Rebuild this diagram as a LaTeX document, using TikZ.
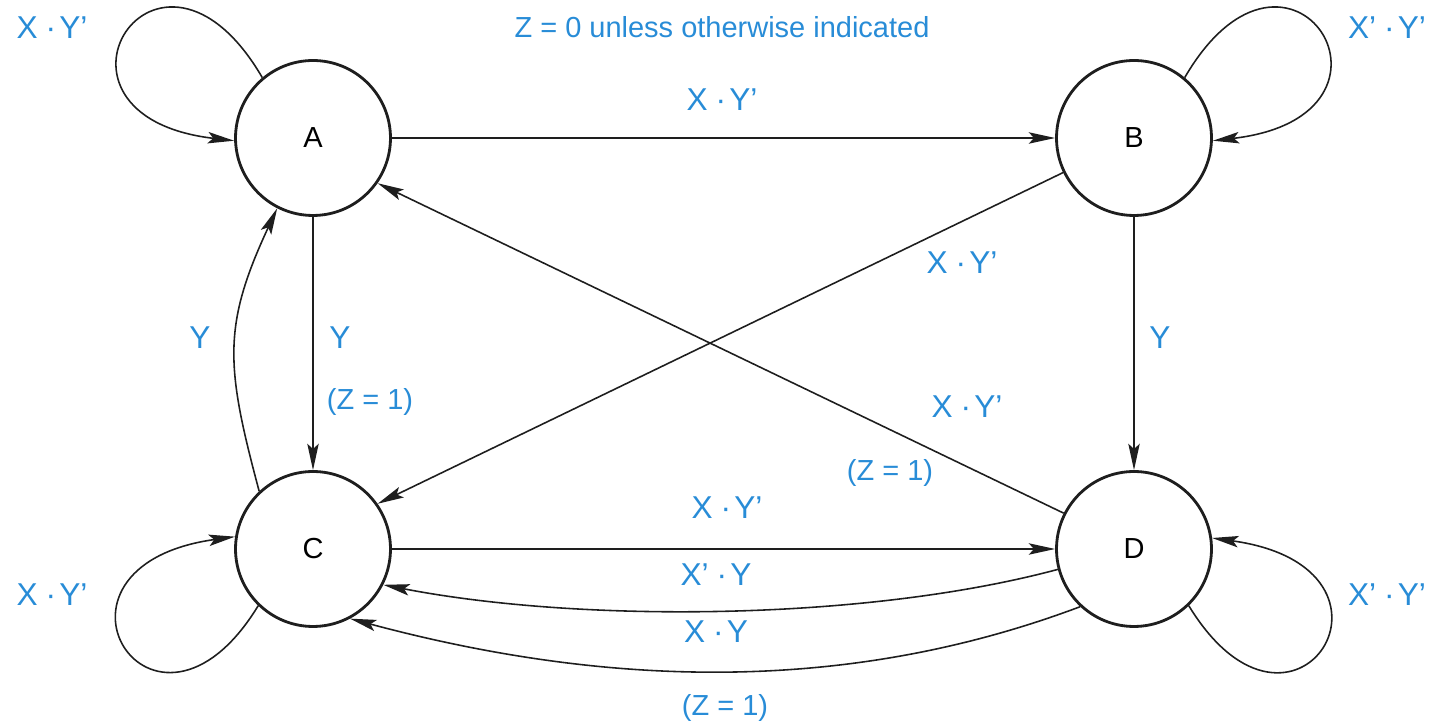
\documentclass[tikz,border=0pt]{standalone}
\usepackage{fontspec}
\setmainfont{Liberation Sans}
\usetikzlibrary{arrows.meta}
\definecolor{lblue}{RGB}{40,140,215}
\definecolor{ink}{RGB}{30,30,30}
\newcommand{\pdot}{\hspace{0.25em}·\hspace{0.1em}}
\begin{document}
\begin{tikzpicture}[x=0.02cm,y=0.02cm,
  state/.style={circle,draw=ink,line width=1.6pt,minimum size=3.1cm,inner sep=0pt,font=\fontsize{16.5}{20}\selectfont},
  lbl/.style={text=lblue,font=\fontsize{16.5}{19}\selectfont,inner sep=1pt},
  lblx/.style={text=lblue,font=\fontsize{18}{21}\selectfont,inner sep=1pt},
  edge/.style={draw=ink,line width=0.9pt,-{Stealth[length=15pt,width=6.5pt,inset=3pt]}}]
\useasboundingbox (0,0) rectangle (1441,723);
\node[state] (A) at (313,585) {A};
\node[state] (B) at (1134,585) {B};
\node[state] (C) at (313,174) {C};
\node[state] (D) at (1134,174) {D};
% straight edges
\draw[edge] (A) -- (B);
\draw[edge] (A) -- (C);
\draw[edge] (B) -- (D);
\draw[edge] (C) -- (D);
\draw[edge] (B.206) -- (C.35);
\draw[edge] (D.153) -- (A.325);
% curved edges
\draw[edge] (C.133) .. controls +(105:130) and +(245:130) .. (A.243);
\draw[edge] (D.195) .. controls +(195:200) and +(-11:200) .. (C.333);
\draw[edge] (D.227) .. controls +(200.6:257) and +(-15:257) .. (C.298);
% self loops
\draw[edge] (A.130) .. controls +(-105,180) and +(-215,25) .. (A.182);
\draw[edge] (B.50) .. controls +(105,180) and +(215,25) .. (B.358);
\draw[edge] (C.226) .. controls +(-105,-172) and +(-215,-30) .. (C.171);
\draw[edge] (D.314) .. controls +(105,-172) and +(215,-30) .. (D.8);
% labels
\node[lbl] (t) at (722,696) {Z = 0 unless otherwise indicated};
\node[lblx] (la) at (52,695) {X\pdot Y’};
\node[lblx] (lb) at (1387,695) {X’\pdot Y’};
\node[lblx] (lab) at (722,623) {X\pdot Y’};
\node[lblx] (lbc) at (962,460) {X\pdot Y’};
\node[lblx] (lca) at (200,385) {Y};
\node[lblx] (lac) at (340,385) {Y};
\node[lbl] (lacz) at (370,321) {(Z = 1)};
\node[lblx] (lbd) at (1160,385) {Y};
\node[lblx] (lda) at (967,316) {X\pdot Y’};
\node[lbl] (ldaz) at (890,250) {(Z = 1)};
\node[lblx] (lcd) at (727,215) {X\pdot Y’};
\node[lblx] (ldc1) at (716,148) {X’\pdot Y};
\node[lblx] (ldc2) at (716,91) {X\pdot Y};
\node[lbl] (ldc2z) at (725,15) {(Z = 1)};
\node[lblx] (lc) at (52,128) {X\pdot Y’};
\node[lblx] (ld) at (1387,128) {X’\pdot Y’};
\end{tikzpicture}
\end{document}
